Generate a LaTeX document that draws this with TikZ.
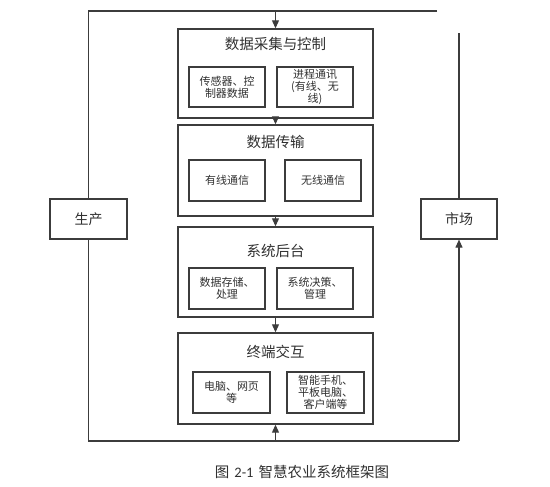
\documentclass[tikz,border=0pt]{standalone}
\usepackage{fontspec}
\setmainfont{Noto Sans CJK SC}
\newfontfamily\capfont{Carlito}
\usetikzlibrary{arrows.meta}
\definecolor{ln}{HTML}{3C3C3C}
\definecolor{tx}{HTML}{303030}
\tikzset{
  bigbox/.style={draw=ln, line width=1.4pt, minimum width=195pt, inner sep=0pt},
  subbox/.style={draw=ln, line width=1.2pt, minimum width=76pt, minimum height=40pt, inner sep=1pt, align=center, text=tx, font=\fontsize{11}{12}\selectfont},
  sidebox/.style={draw=ln, line width=1.2pt, minimum width=77pt, minimum height=40pt, inner sep=0pt, text=tx, font=\fontsize{14}{15}\selectfont},
  ttl/.style={text=tx, font=\fontsize{14.5}{16}\selectfont, inner sep=0pt},
  conn/.style={draw=ln, line width=1.1pt},
  arr/.style={conn, -{Triangle[length=8pt,width=7pt]}}
}
\begin{document}
\begin{tikzpicture}[x=1pt,y=-1pt]
\useasboundingbox (0,0) rectangle (550,487);
% main boxes
\node[bigbox, minimum height=89pt] (b1) at (275.5,73.5) {};
\node[bigbox, minimum height=91pt] (b2) at (275.5,170.5) {};
\node[bigbox, minimum height=90pt] (b3) at (275.5,272) {};
\node[bigbox, minimum height=91pt] (b4) at (275.5,378.5) {};
% titles
\node[ttl] (t1) at (275.5,44) {数据采集与控制};
\node[ttl] (t2) at (275.5,142) {数据传输};
\node[ttl] (t3) at (275.5,251) {系统后台};
\node[ttl] (t4) at (275.5,352) {终端交互};
% sub boxes
\node[subbox] (s1a) at (227,87) {传感器、控\\制器数据};
\node[subbox] (s1b) at (315,87) {进程通讯\\(有线、无\\线)};
\node[subbox, minimum height=41pt] (s2a) at (227,180.5) {有线通信};
\node[subbox, minimum height=41pt] (s2b) at (323,180.5) {无线通信};
\node[subbox, minimum height=41pt] (s3a) at (227,288.5) {数据存储、\\处理};
\node[subbox, minimum height=41pt] (s3b) at (315,288.5) {系统决策、\\管理};
\node[subbox, minimum width=77pt, minimum height=41pt] (s4a) at (231.5,392.5) {电脑、网页\\等};
\node[subbox, minimum width=77pt, minimum height=41pt] (s4b) at (325.5,392.5) {智能手机、\\平板电脑、\\客户端等};
% side boxes
\node[sidebox] (prod) at (88.5,219) {生产};
\node[sidebox, minimum width=76pt] (mkt) at (459,219) {市场};
% loop coordinates
\coordinate (tl) at (88.5,11);
\coordinate (tr) at (437,11);
\coordinate (tm) at (275.5,11);
\coordinate (bl) at (88.5,441);
\coordinate (br) at (459,441);
\coordinate (bm) at (275.5,441);
\coordinate (rt) at (459,33);
% connectors
\draw[conn] (tr) -- (tl) -- (prod.north);
\draw[conn] (prod.south) -- (bl) -- (br);
\draw[arr] (br) -- (mkt.south);
\draw[conn] (mkt.north) -- (rt);
\draw[arr] (tm) -- (b1.north);
\draw[arr] (b1.south) -- (b2.north);
\draw[arr] (b2.south) -- (b3.north);
\draw[arr] (b3.south) -- (b4.north);
\draw[arr] (bm) -- (b4.south);
% caption
\node[text=tx, font=\fontsize{14.5}{16}\selectfont, inner sep=0pt] (cap) at (302,472) {图\hspace{5pt}{\capfont 2-1}\hspace{5pt}智慧农业系统框架图};
\end{tikzpicture}
\end{document}
